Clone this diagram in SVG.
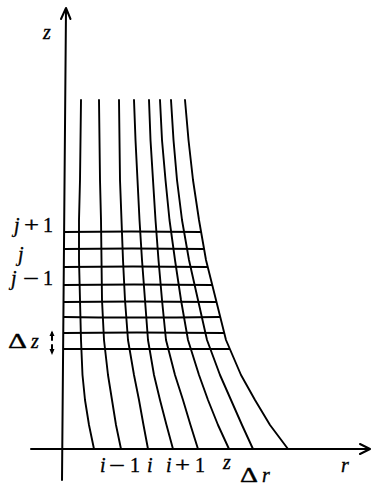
<svg xmlns="http://www.w3.org/2000/svg" width="371" height="487" viewBox="0 0 371 487">
<style>
.ln{stroke:#000;fill:none;stroke-width:2;stroke-linecap:round;stroke-linejoin:round}
.cv{stroke:#000;fill:none;stroke-width:1.9;stroke-linecap:round;stroke-linejoin:round}
.gr{stroke:#000;fill:none;stroke-width:2.2;stroke-linecap:butt}
.t{font-family:"Liberation Serif","Times New Roman",serif;font-size:20px;fill:#000;stroke:#000;stroke-width:0.35}
.it{font-style:italic}
</style>
<rect width="371" height="487" fill="#fff"/>
<g id="axes">
<path class="ln" d="M66,9 L62,480"/>
<path class="ln" d="M61,19 L66,8 L70.5,19"/>
<path class="ln" d="M31,449 L369,449"/>
<path class="ln" d="M360,444 L370,449 L360,454"/>
</g>
<g id="curves">
<polyline class="cv" points="81,100 80.5,140 80,180 79,220 79,260 80,300 81,340 82.5,375 85,400 89,425 94,449"/>
<polyline class="cv" points="99,100 99.5,140 100,180 101,220 101.5,260 102,300 104,340 108,375 112,400 116,425 121,449"/>
<polyline class="cv" points="119,100 119.5,140 120,180 121.5,220 123,260 125,300 128,340 134,375 139,400 143.5,425 148,449"/>
<polyline class="cv" points="134,100 135.5,140 137.5,180 139.5,220 142,260 145,300 148,340 154,375 160,400 166.5,425 173,449"/>
<polyline class="cv" points="149,100 150.5,140 153,180 155.5,220 158.5,260 162,300 166,340 175,375 183,400 190.5,425 198,449"/>
<polyline class="cv" points="160,100 162,140 165.5,180 169.5,220 175,260 181,300 188,340 199,375 208,400 218,425 229,449"/>
<polyline class="cv" points="171,100 173.5,140 177,180 182,220 189,260 198,300 207,340 220,375 231,400 242,425 253,449"/>
<polyline class="cv" points="185,100 188.5,140 193,180 199,220 206,260 216,300 226,340 241,375 255,400 270,425 288,449"/>
</g>
<g id="grid">
<path class="gr" d="M64,232 Q130,231 201,232"/>
<path class="gr" d="M64,249 Q130,248 204,249"/>
<path class="gr" d="M64,267 Q130,266 208,267"/>
<path class="gr" d="M64,285 Q130,284 212,285"/>
<path class="gr" d="M64,302 Q130,301 216.5,302"/>
<path class="gr" d="M64,317 Q130,318 220,317"/>
<path class="gr" d="M64,333 Q130,332 224,333"/>
<path class="gr" d="M64,349 Q130,349 230,349"/>
</g>
<g id="labels">
<text class="t it" x="43" y="39">z</text>
<text class="t it" x="341" y="472">r</text>
<text class="t it" x="14" y="232">j</text><text class="t" x="24" y="232" textLength="15" lengthAdjust="spacingAndGlyphs">+</text><text class="t" x="43" y="232">1</text>
<text class="t it" x="18" y="261">j</text>
<text class="t it" x="11" y="285">j</text><text class="t" x="23" y="285" textLength="16" lengthAdjust="spacingAndGlyphs">−</text><text class="t" x="43" y="285">1</text>
<text class="t" x="8" y="348" textLength="19" lengthAdjust="spacingAndGlyphs">Δ</text><text class="t it" x="31" y="348">z</text>
<text class="t it" x="100" y="472">i</text><text class="t" x="109" y="472" textLength="16" lengthAdjust="spacingAndGlyphs">−</text><text class="t" x="130" y="472">1</text>
<text class="t it" x="147" y="472">i</text>
<text class="t it" x="166" y="472">i</text><text class="t" x="175" y="472" textLength="15" lengthAdjust="spacingAndGlyphs">+</text><text class="t" x="195" y="472">1</text>
<text class="t it" x="223" y="469">z</text>
<text class="t" x="240" y="482" textLength="18" lengthAdjust="spacingAndGlyphs">Δ</text><text class="t it" x="262" y="482">r</text>
<path class="ln" d="M52,333 L52,340" stroke-width="1.4"/>
<path d="M49.5,336 L52,330.5 L54.5,336 Z" fill="#000"/>
<path class="ln" d="M52,345 L52,352" stroke-width="1.4"/>
<path d="M49.5,349 L52,355 L54.5,349 Z" fill="#000"/>
</g>
</svg>
